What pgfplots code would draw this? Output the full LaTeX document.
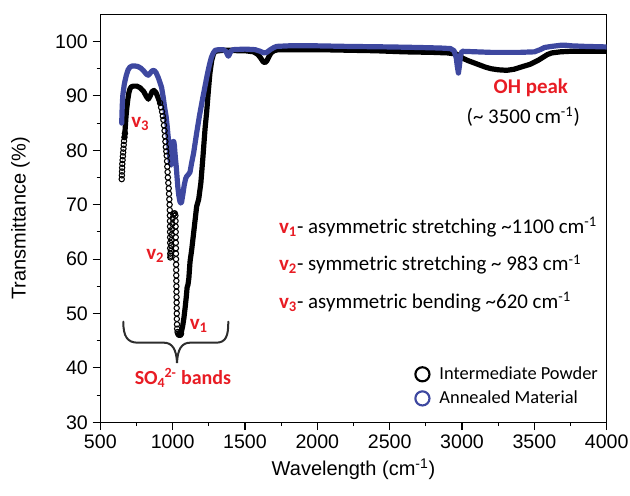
\documentclass[border=0pt]{standalone}
\usepackage{fontspec}
\setmainfont{Liberation Sans}
\newfontfamily\calib{Carlito}
\usepackage{pgfplots}
\pgfplotsset{compat=1.18}
\definecolor{myred}{RGB}{232,28,36}
\definecolor{annblue}{RGB}{62,72,160}
\definecolor{bracegray}{RGB}{45,45,45}
\newcommand\annfont{\calib\fontsize{15.7}{18}\selectfont}
\newcommand\lblfont{\calib\fontsize{15}{18}\selectfont}
\begin{document}
\begin{tikzpicture}
\path[use as bounding box] (0,0) rectangle (472.5pt,371.25pt);
\begin{axis}[
  at={(75.23pt,54.53pt)}, anchor=south west,
  scale only axis, width=379.8pt, height=306pt,
  xmin=500, xmax=4000, ymin=30, ymax=105,
  xtick={500,1000,...,4000}, ytick={30,40,...,100},
  minor x tick num=1, minor y tick num=1,
  tick pos=left, tick align=outside,
  major tick length=5.8pt, minor tick length=2.8pt,
  every tick/.style={black, line width=0.8pt},
  axis line style={line width=0.8pt},
  scaled x ticks=false, scaled y ticks=false,
  /pgf/number format/assume math mode=true,
  /pgf/number format/1000 sep={},
  ticklabel style={font=\fontsize{14.7}{17}\selectfont},
  xlabel={Wavelength (cm\textsuperscript{-1})},
  ylabel={Transmittance (\%)},
  label style={font=\fontsize{15}{18}\selectfont},
  xlabel style={at={(axis description cs:0.5,-0.1145)}, anchor=center},
  ylabel style={at={(axis description cs:-0.1576,0.5)}, anchor=center},
  legend style={draw=none, fill=none, at={(0.6195,0.0881)}, anchor=west,
    inner sep=0pt, row sep=3pt, font=\calib\fontsize{13.8}{16}\selectfont,
    nodes={inner sep=2pt}},
  legend cell align=left,
]
% Intermediate powder (black)
\addplot[black, only marks, mark=o, mark size=2.0pt, mark options={line width=0.8pt}, forget plot] coordinates {
(648,74.7)(649,75.4)(650,76.1)(651,76.8)(652,77.5)(654,78.2)(656,78.9)(658,79.6)(660,80.3)(662,81.0)(664,81.7)(667,82.4)(670,83.1)
};
\addplot[black, line width=3.9pt, line join=round, line cap=round, forget plot] coordinates {
(667,82.4)(672,84.0)(677,86.0)(682,87.5)(690,89.3)(697,90.5)(705,91.3)(715,91.7)(730,91.8)(752,91.8)(775,91.5)(800,90.8)(818,89.9)(832,89.4)(845,90.0)(858,90.8)(871,91.0)(885,90.6)(900,89.6)(913,88.7)
};
\addplot[black, only marks, mark=o, mark size=2.0pt, mark options={line width=0.8pt}, forget plot] coordinates {
(913,88.7)(920,87.9)(927,87.1)(932,86.3)(936,85.6)(940,84.6)(944,83.6)(947,82.6)(950,81.6)(953,80.6)(956,79.8)(959,79.0)(961,78.0)(963,77.0)(965,76.0)(967,75.0)(970,74.0)(973,73.0)(975,72.0)(977,71.0)(979,70.0)(980,69.0)(981,68.0)(981.5,67.0)(982,66.0)(982,65.0)(982.5,64.0)(983,63.0)(983,62.0)(983.5,61.0)(984,60.3)(986,60.6)(988,61.5)(990,62.5)(992,63.5)(994,64.5)(996,65.5)(998,66.5)(1000,67.5)(1005,68.2)(1010,68.4)(1015,68.4)(1019,68.0)(1020,67.0)(1020.5,66.0)(1021,65.0)(1021.5,64.0)(1022,63.0)(1022.5,62.0)(1023,61.0)(1023.5,60.0)(1024,59.0)(1024.5,58.0)(1025,57.0)(1025.5,56.0)(1026,55.0)(1026.5,54.0)(1027,53.0)(1027.5,52.0)(1028,51.0)(1028.5,50.0)(1029,49.0)(1030,48.0)(1031,47.2)(1034,46.6)(1038,46.3)(1043,46.1)(1048,46.1)(1053,46.1)(1058,46.3)
};
\addplot[black, line width=3.9pt, line join=round, line cap=round, forget plot] coordinates {
(1054,46.1)(1062,46.8)(1070,47.8)(1078,49.2)(1086,51.0)(1094,53.0)(1100,54.8)(1106,55.3)(1112,56.5)(1120,59.5)(1132,61.8)(1145,64.8)(1166,69.7)(1180,71.0)(1195,74.0)(1210,79.0)(1224,84.0)(1235,87.0)(1247,91.0)(1258,94.3)(1270,96.5)(1282,97.7)(1293,98.2)(1320,98.3)(1360,98.4)(1400,98.4)(1450,98.3)(1500,98.3)(1560,98.1)(1590,97.6)(1610,96.9)(1625,96.3)(1638,96.1)(1650,96.4)(1665,97.2)(1680,97.9)(1700,98.3)(1730,98.5)(1800,98.5)(2000,98.5)(2200,98.4)(2400,98.3)(2600,98.1)(2800,98.0)(2900,97.9)(2960,97.7)(2980,97.4)(2990,97.2)(3007,96.9)(3040,96.5)(3080,96.1)(3120,95.7)(3160,95.3)(3200,95.0)(3250,94.8)(3309,94.7)(3360,94.9)(3420,95.4)(3470,95.8)(3500,96.2)(3530,96.6)(3560,97.1)(3590,97.6)(3620,97.9)(3680,98.1)(3750,98.2)(3850,98.2)(4000,98.2)
};
% Annealed material (blue)
\addplot[annblue, line width=3.9pt, line join=round, line cap=round, forget plot] coordinates {
(648,85.0)(650,87.0)(653,89.0)(656,90.2)(660,91.0)(665,92.0)(671,92.8)(680,93.8)(692,94.8)(705,95.3)(720,95.5)(740,95.5)(760,95.4)(780,95.1)(800,94.6)(818,94.0)(832,93.8)(845,94.2)(858,94.6)(871,94.7)(885,94.3)(900,93.4)(912,92.5)(924,91.5)(935,89.7)(945,87.8)(955,86.2)(962,84.5)(970,82.2)(977,80.0)(982,78.3)(986,77.5)(990,77.3)(994,79.0)(998,80.8)(1003,81.6)(1008,81.6)(1012,80.9)(1016,79.5)(1020,78.3)(1025,77.0)(1030,75.2)(1036,73.2)(1042,71.8)(1050,70.6)(1056,70.3)(1062,70.5)(1070,71.8)(1080,73.6)(1090,74.8)(1097,75.2)(1110,75.6)(1120,76.0)(1130,77.5)(1145,79.5)(1166,83.2)(1185,86.3)(1205,89.2)(1224,91.8)(1240,94.0)(1255,95.8)(1268,97.1)(1281,97.9)(1295,98.4)(1320,98.5)(1350,98.5)(1368,98.2)(1378,97.6)(1385,97.3)(1392,97.6)(1402,98.2)(1417,98.5)(1500,98.6)(1570,98.5)(1605,98.2)(1630,97.9)(1650,98.0)(1675,98.5)(1700,98.9)(1719,99.1)(1800,99.2)(2000,99.2)(2200,99.1)(2500,99.0)(2700,98.9)(2850,98.8)(2920,98.7)(2945,98.3)(2960,97.0)(2968,95.3)(2975,94.2)(2982,95.5)(2990,97.5)(3000,98.2)(3100,98.1)(3200,98.0)(3300,98.0)(3400,98.0)(3500,98.1)(3540,98.5)(3570,98.9)(3620,99.1)(3680,99.3)(3720,99.3)(3760,99.2)(3850,99.1)(4000,99.0)
};
\addlegendimage{legend image code/.code={\draw[black, line width=1.6pt] (5.9pt,0pt) circle (5.3pt); \path (16.5pt,0pt);}}
\addlegendentry{Intermediate Powder}
\addlegendimage{legend image code/.code={\draw[annblue, line width=1.6pt] (5.9pt,0pt) circle (5.3pt); \path (16.5pt,0pt);}}
\addlegendentry{Annealed Material}
\end{axis}
\begin{scope}[shift={(0pt,371.25pt)}, x=0.75pt, y=-0.75pt]
  \node[anchor=base west, inner sep=0pt, font=\annfont\bfseries, text=myred] at (131.0,127.3) {v\textsubscript{3}};
  \node[anchor=base west, inner sep=0pt, font=\annfont\bfseries, text=myred] at (146.0,260.0) {v\textsubscript{2}};
  \node[anchor=base west, inner sep=0pt, font=\annfont\bfseries, text=myred] at (189.5,329.3) {v\textsubscript{1}};
  \node[anchor=base west, inner sep=0pt, font=\lblfont\bfseries, text=myred] at (134.5,384.3) {SO\textsubscript{4}\kern-0.05em\textsuperscript{2-} bands};
  \node[anchor=base, inner sep=0pt, font=\annfont\bfseries, text=myred] at (530.8,94.0) {OH peak};
  \node[anchor=base, inner sep=0pt, font=\annfont] at (523.3,123.3) {(\textasciitilde{} 3500 cm\textsuperscript{-1})};
  \node[anchor=base west, inner sep=0pt, font=\annfont] at (278.8,233.3) {{\color{myred}\bfseries v\textsubscript{1}}- asymmetric stretching \textasciitilde1100 cm\textsuperscript{-1}};
  \node[anchor=base west, inner sep=0pt, font=\annfont] at (278.8,271.0) {{\color{myred}\bfseries v\textsubscript{2}}- symmetric stretching \textasciitilde{} 983 cm\textsuperscript{-1}};
  \node[anchor=base west, inner sep=0pt, font=\annfont] at (278.8,308.3) {{\color{myred}\bfseries v\textsubscript{3}}- asymmetric bending \textasciitilde620 cm\textsuperscript{-1}};
  \draw[bracegray, line width=1.5pt, line cap=round]
    (123.3,321.7) .. controls (123.3,336) and (127,342.7) .. (138,342.7)
    -- (164,342.7) .. controls (172,342.7) and (176.5,349) .. (177,363)
    .. controls (177.5,349) and (182,342.7) .. (190,342.7)
    -- (216,342.7) .. controls (226,342.7) and (228.3,336) .. (228.3,321.7);
\end{scope}
\end{tikzpicture}
\end{document}
